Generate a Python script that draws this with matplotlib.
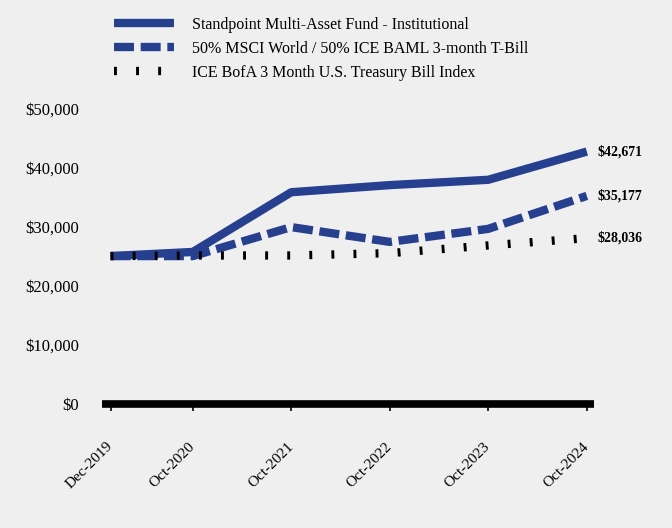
import numpy as np
import matplotlib.pyplot as plt
import matplotlib.dates as mdates
from datetime import date

plt.rcParams['font.family'] = ['Liberation Serif', 'DejaVu Serif']

# dates des points
dates = [date(2019, 12, 31), date(2020, 10, 31), date(2021, 10, 31),
         date(2022, 10, 31), date(2023, 10, 31), date(2024, 10, 31)]
date_labels = ["Dec-2019", "Oct-2020", "Oct-2021", "Oct-2022", "Oct-2023", "Oct-2024"]

fund = [25000, 25700, 35800, 37000, 37900, 42671]
blend = [25000, 25000, 29900, 27400, 29600, 35177]
tbill = [25000, 25100, 25100, 25500, 26800, 28036]

fund_name = "Standpoint Multi-Asset Fund - Institutional"
blend_name = "50% MSCI World / 50% ICE BAML 3-month T-Bill"
tbill_name = "ICE BofA 3 Month U.S. Treasury Bill Index"

bg = '#efefef'
blue = '#26408f'

fig = plt.figure(figsize=(6.72, 5.28), dpi=100, facecolor=bg)
ax = fig.add_axes([0.1525, 0.235, 0.732, 0.56], facecolor=bg)

ax.plot(dates, fund, color=blue, lw=6, solid_capstyle='butt', label=fund_name)
ax.plot(dates, blend, color=blue, lw=6, dashes=(2.4, 0.8), dash_capstyle='butt', label=blend_name)
ax.plot(dates, tbill, color='black', lw=6, dashes=(0.35, 2.3), dash_capstyle='butt', label=tbill_name)

# étiquettes de fin de série
for vals in [fund, blend, tbill]:
    ax.annotate("${:,.0f}".format(vals[-1]), xy=(dates[-1], vals[-1]), xytext=(7.5, 0),
                textcoords='offset points', va='center', ha='left',
                fontsize=10, fontweight='bold')

ax.set_xlim(date(2019, 12, 1), date(2024, 11, 28))
ax.set_ylim(0, 50000)
ax.set_yticks(np.arange(0, 50001, 10000))
ax.set_yticklabels(["${:,.0f}".format(v) for v in np.arange(0, 50001, 10000)], fontsize=12)
ax.set_xticks([mdates.date2num(d) for d in dates])
ax.set_xticklabels(date_labels, rotation=45, ha='right', va='center',
                   rotation_mode='anchor', fontsize=11)

for s in ['top', 'right', 'left']:
    ax.spines[s].set_visible(False)
ax.spines['bottom'].set_linewidth(5.5)
ax.spines['bottom'].set_capstyle('butt')
ax.tick_params(axis='y', length=0, pad=17)
ax.tick_params(axis='x', length=5, width=1.2, pad=24)

leg = fig.legend(loc='upper left', bbox_to_anchor=(0.148, 0.995), frameon=False,
                 fontsize=11.5, handlelength=3.75, handletextpad=1.13, labelspacing=0.5)

fig.savefig("out.png", dpi=100, facecolor=bg)
